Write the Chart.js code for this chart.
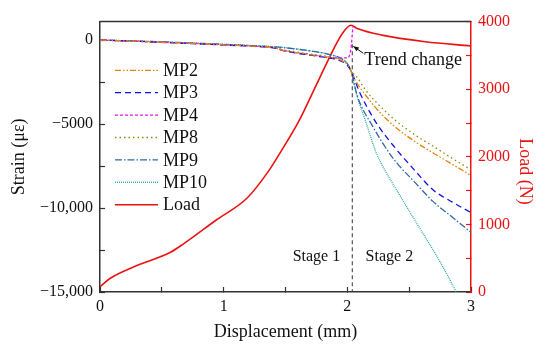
<!DOCTYPE html>
<html>
<head>
<meta charset="utf-8">
<script src="https://cdn.jsdelivr.net/npm/chart.js@4"></script>
<style>
  html, body { margin: 0; padding: 0; background: #fff; }
  #wrap { width: 550px; height: 352px; position: relative; }
</style>
</head>
<body>
<div id="wrap"><canvas id="strainLoadChart"></canvas></div>
<script>
// Stage 1 displacement points shared by the strain gauges (mm)
const stage1Disp = [0, 0.25, 0.5, 0.75, 1.0, 1.25, 1.4, 1.5, 1.7, 1.85, 1.95, 2.0, 2.03];

// Strain values (µε)
const mp2Disp = stage1Disp.concat([2.06, 2.15, 2.26, 2.4, 2.55, 2.7, 2.85, 3.0]);
const mp2Strain = [0, -60, -130, -200, -280, -370, -450, -640, -870, -1020, -1200, -1450, -1840,
  -2335, -3300, -4290, -5250, -6060, -6750, -7400, -8060];

const mp3Disp = stage1Disp.concat([2.1, 2.23, 2.39, 2.55, 2.69, 2.85, 3.0]);
const mp3Strain = [0, -60, -135, -210, -290, -380, -460, -660, -900, -1060, -1250, -1500, -1840,
  -3120, -4880, -6450, -7800, -8900, -9650, -10270];

const mp4Disp = [0, 0.25, 0.5, 0.75, 1.0, 1.25, 1.4, 1.5, 1.7, 1.88, 2.0, 2.03, 2.045];
const mp4Strain = [0, -60, -130, -200, -280, -370, -450, -640, -870, -1060, -1060, -470, 820];

const mp8Disp = stage1Disp.concat([2.07, 2.15, 2.26, 2.4, 2.55, 2.7, 2.85, 3.0]);
const mp8Strain = [0, -55, -125, -195, -270, -360, -430, -600, -830, -990, -1180, -1430, -1840,
  -2135, -3000, -3900, -4850, -5660, -6350, -7050, -7720];

const mp9Disp = stage1Disp.concat([2.08, 2.2, 2.37, 2.55, 2.69, 2.85, 3.0]);
const mp9Strain = [0, -50, -110, -180, -260, -340, -400, -460, -650, -850, -1100, -1400, -1840,
  -3310, -5075, -7040, -8500, -9590, -10550, -11450];

const mp10Disp = stage1Disp.concat([2.07, 2.15, 2.23, 2.28, 2.42, 2.63, 2.75, 2.88]);
const mp10Strain = [0, -45, -105, -175, -250, -330, -390, -450, -640, -840, -1090, -1400, -1840,
  -3120, -4880, -6650, -7430, -9190, -11740, -13200, -14980];

// Load (N)
const loadDisp = [0, 0.08, 0.27, 0.57, 0.67, 0.94, 1.19, 1.36, 1.45, 1.61, 1.77, 1.96, 2.03, 2.08, 2.28, 2.63, 3.0];
const loadValues = [77, 200, 370, 588, 705, 1065, 1391, 1781, 2040, 2535, 3143, 3825, 3946, 3898, 3800, 3703, 3640];

// Tick positions and labels
const dispTicks = [0, 1, 2, 3];
const strainTickValues = [-15000, -12500, -10000, -7500, -5000, -2500, 0];
const strainTicks = [0, -5000, -10000, -15000];
const strainTickLabels = ["0", "\u22125000", "\u221210,000", "\u221215,000"];
const loadTicks = [0, 1000, 2000, 3000, 4000];

// annotations
const stageSplit = 2.04;
const stageLabels = [{ text: "Stage 1", x: 1.75 }, { text: "Stage 2", x: 2.34 }];
const trendPoint = { x: 2.04, y: -370 };

const serif = "'Liberation Serif', 'Times New Roman', serif";

function pts(xs, ys) {
  return xs.map((x, i) => ({ x: x, y: ys[i] }));
}

const seriesDefs = [
  { label: "MP2", data: pts(mp2Disp, mp2Strain), color: "#e8820c", dash: [6, 2, 1.5, 2, 1.5, 2], axis: "y" },
  { label: "MP3", data: pts(mp3Disp, mp3Strain), color: "#1010ee", dash: [6, 4], axis: "y" },
  { label: "MP4", data: pts(mp4Disp, mp4Strain), color: "#ee10ee", dash: [3, 2], axis: "y" },
  { label: "MP8", data: pts(mp8Disp, mp8Strain), color: "#8a8a10", dash: [1.5, 3], axis: "y" },
  { label: "MP9", data: pts(mp9Disp, mp9Strain), color: "#2f6aa6", dash: [7, 2, 1.5, 2], axis: "y" },
  { label: "MP10", data: pts(mp10Disp, mp10Strain), color: "#2aa8a8", dash: [1, 1], axis: "y" },
  { label: "Load", data: pts(loadDisp, loadValues), color: "#ee1111", dash: [], axis: "y1", width: 1.6 },
];

// legend drawn inside the plot, line samples carry the dash pattern
const insideLegend = {
  id: "insideLegend",
  afterDraw(chart) {
    const ctx = chart.ctx;
    const area = chart.chartArea;
    ctx.save();
    chart.data.datasets.forEach((ds, i) => {
      const y = area.top + 48.7 + i * 22.4;
      ctx.strokeStyle = ds.borderColor;
      ctx.lineWidth = ds.borderWidth;
      ctx.setLineDash(ds.borderDash || []);
      ctx.beginPath();
      ctx.moveTo(area.left + 15, y);
      ctx.lineTo(area.left + 58, y);
      ctx.stroke();
      ctx.setLineDash([]);
      ctx.fillStyle = "#111";
      ctx.font = "18px " + serif;
      ctx.textBaseline = "middle";
      ctx.textAlign = "left";
      ctx.fillText(ds.label, area.left + 63, y + 1);
    });
    ctx.restore();
  },
};

// top frame, stage divider, stage texts, trend arrow, right axis title
const extras = {
  id: "extras",
  beforeDatasetsDraw(chart) {
    const ctx = chart.ctx;
    const area = chart.chartArea;
    const xs = chart.scales.x;
    const ys = chart.scales.y;
    ctx.save();
    ctx.strokeStyle = "#333";
    ctx.lineWidth = 1;
    ctx.setLineDash([4, 3]);
    const sx = xs.getPixelForValue(stageSplit);
    ctx.beginPath();
    ctx.moveTo(sx, ys.getPixelForValue(-250));
    ctx.lineTo(sx, area.bottom);
    ctx.stroke();
    ctx.restore();
  },
  afterDraw(chart) {
    const ctx = chart.ctx;
    const area = chart.chartArea;
    const xs = chart.scales.x;
    const ys = chart.scales.y;
    ctx.save();
    // top frame line
    ctx.strokeStyle = "#333";
    ctx.lineWidth = 1.5;
    ctx.beginPath();
    ctx.moveTo(area.left, area.top);
    ctx.lineTo(area.right, area.top);
    ctx.stroke();

    ctx.fillStyle = "#111";
    ctx.font = "16px " + serif;
    ctx.textAlign = "center";
    ctx.textBaseline = "middle";
    stageLabels.forEach((s) => {
      ctx.fillText(s.text, xs.getPixelForValue(s.x), ys.getPixelForValue(-12880));
    });

    // trend change arrow
    const hx = xs.getPixelForValue(trendPoint.x) + 1;
    const hy = ys.getPixelForValue(trendPoint.y);
    const tx = hx + 10, ty = hy + 7;
    ctx.strokeStyle = "#111";
    ctx.lineWidth = 1;
    ctx.beginPath();
    ctx.moveTo(tx, ty);
    ctx.lineTo(hx, hy);
    ctx.stroke();
    const ang = Math.atan2(hy - ty, hx - tx);
    ctx.beginPath();
    ctx.moveTo(hx, hy);
    ctx.lineTo(hx - 6 * Math.cos(ang - 0.4), hy - 6 * Math.sin(ang - 0.4));
    ctx.lineTo(hx - 6 * Math.cos(ang + 0.4), hy - 6 * Math.sin(ang + 0.4));
    ctx.closePath();
    ctx.fill();
    ctx.font = "18px " + serif;
    ctx.textAlign = "left";
    ctx.fillText("Trend change", tx + 1, hy + 14);

    // right axis title
    ctx.fillStyle = "#ee1111";
    ctx.translate(area.right + 54, area.top + 150);
    ctx.rotate(Math.PI / 2);
    ctx.textAlign = "center";
    ctx.fillText("Load (N)", 0, 0);
    ctx.restore();
  },
};

const ctx = document.getElementById("strainLoadChart").getContext("2d");
new Chart(ctx, {
  type: "line",
  data: {
    datasets: seriesDefs.map((s) => ({
      label: s.label,
      data: s.data,
      borderColor: s.color,
      backgroundColor: s.color,
      borderDash: s.dash,
      borderWidth: s.width || 1.3,
      pointRadius: 0,
      cubicInterpolationMode: "monotone",
      fill: false,
      yAxisID: s.axis,
    })),
  },
  options: {
    responsive: true,
    maintainAspectRatio: false,
    animation: false,
    layout: { padding: { top: 18, left: 0, right: 0, bottom: 0 } },
    plugins: { legend: { display: false }, tooltip: { enabled: false } },
    scales: {
      x: {
        type: "linear",
        min: 0,
        max: 3,
        afterFit(scale) { scale.height = 60; },
        border: { display: true, color: "#333", width: 1.5 },
        grid: { display: true, drawOnChartArea: false, drawTicks: true, tickLength: -5, tickColor: "#333", tickWidth: 1.2 },
        ticks: {
          stepSize: 0.5,
          padding: 10,
          color: "#111",
          font: { family: serif, size: 16 },
          maxRotation: 0,
          autoSkip: false,
          callback: (v) => (dispTicks.includes(v) ? String(v) : ""),
        },
        title: {
          display: true,
          text: "Displacement (mm)",
          color: "#111",
          font: { family: serif, size: 18 },
          padding: { top: 0, bottom: 9 },
        },
      },
      y: {
        type: "linear",
        position: "left",
        min: -15000,
        max: 1100,
        afterFit(scale) { scale.width = 100; },
        afterBuildTicks(scale) {
          scale.ticks = strainTickValues.map((v) => ({ value: v }));
        },
        border: { display: true, color: "#333", width: 1.5 },
        grid: { display: true, drawOnChartArea: false, drawTicks: true, tickLength: -5, tickColor: "#333", tickWidth: 1.2 },
        ticks: {
          padding: 12,
          color: "#111",
          font: { family: serif, size: 16 },
          autoSkip: false,
          callback: (v) => {
            const i = strainTicks.indexOf(Math.round(v));
            return i >= 0 ? strainTickLabels[i] : "";
          },
        },
        title: {
          display: true,
          text: "Strain (\u03bc\u03b5)",
          color: "#111",
          font: { family: serif, size: 18 },
          padding: { top: 8, bottom: 0 },
        },
      },
      y1: {
        type: "linear",
        position: "right",
        min: 0,
        max: 4000,
        afterFit(scale) { scale.width = 79; },
        border: { display: true, color: "#ee1111", width: 1.5 },
        grid: { display: true, drawOnChartArea: false, drawTicks: true, tickLength: -5, tickColor: "#ee1111", tickWidth: 1.2 },
        ticks: {
          stepSize: 500,
          padding: 12,
          color: "#ee1111",
          font: { family: serif, size: 16 },
          autoSkip: false,
          callback: (v) => (loadTicks.includes(v) ? String(v) : ""),
        },
      },
    },
  },
  plugins: [insideLegend, extras],
});
</script>
</body>
</html>
